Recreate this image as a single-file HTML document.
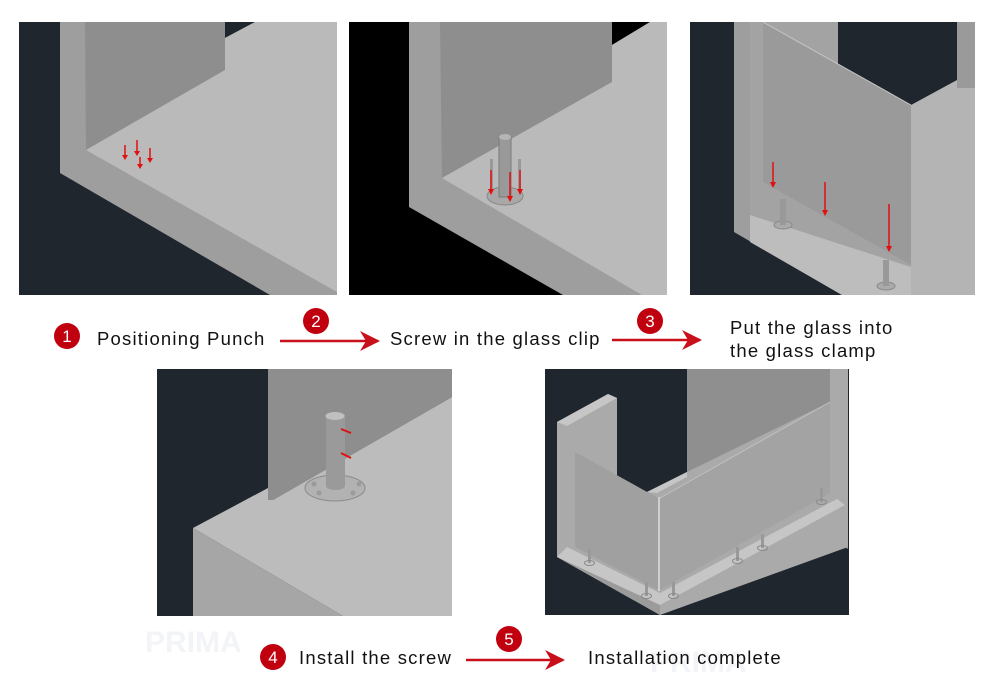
<!DOCTYPE html>
<html><head><meta charset="utf-8"><style>
html,body{margin:0;padding:0;background:#fff;}
svg{display:block}
text{font-family:"Liberation Sans",Arial,sans-serif;}
</style></head><body>
<svg width="990" height="700" viewBox="0 0 990 700" xmlns="http://www.w3.org/2000/svg">
<defs>
<marker id="ah" viewBox="0 0 10 10" refX="9" refY="5" markerWidth="8" markerHeight="8" orient="auto"><path d="M0,0 L10,5 L0,10 L3,5z" fill="#c8101a"/></marker>
</defs>

<!-- Panel 1 -->
<g transform="translate(19,22)">
<rect width="318" height="273" fill="#20262e"/>
<polygon points="41,0 318,0 318,273 251,273 41,151" fill="#9e9e9e"/>
<polygon points="66,0 206,0 206,48 67,128" fill="#8e8e8e"/>
<polygon points="206,0 236,0 206,16" fill="#20262e"/>
<polygon points="67,128 206,48 206,16 236,0 318,0 318,270" fill="#bababa"/>
<g stroke="#e01010" stroke-width="1.5">
<line x1="106" y1="123" x2="106" y2="135"/><line x1="118" y1="118" x2="118" y2="131"/><line x1="131" y1="126" x2="131" y2="138"/><line x1="121" y1="135" x2="121" y2="144"/>
</g>
<g fill="#e01010"><polygon points="103,133 109,133 106,138"/><polygon points="115,129 121,129 118,134"/><polygon points="128,136 134,136 131,141"/><polygon points="118,142 124,142 121,147"/></g>
</g>

<!-- Panel 2 -->
<g transform="translate(349,22)">
<rect width="318" height="273" fill="#000"/>
<polygon points="60,0 318,0 318,273 214,273 60,185" fill="#9e9e9e"/>
<polygon points="91,0 263,0 263,60 93,156" fill="#8e8e8e"/>
<polygon points="263,0 301,0 263,23" fill="#000"/>
<polygon points="93,156 263,60 263,23 301,0 318,0 318,273 293,273" fill="#bababa"/>
<ellipse cx="156" cy="174" rx="18" ry="9" fill="#a8a8a8" stroke="#888"/>
<rect x="150" y="115" width="12" height="60" fill="#999" stroke="#7a7a7a"/>
<ellipse cx="156" cy="115" rx="6" ry="3" fill="#b5b5b5"/>
<rect x="141" y="137" width="3" height="32" fill="#999"/><rect x="169" y="137" width="3" height="32" fill="#999"/>
<g stroke="#e01010" stroke-width="1.5"><line x1="142" y1="148" x2="142" y2="168"/><line x1="161" y1="150" x2="161" y2="176"/><line x1="171" y1="148" x2="171" y2="168"/></g>
<g fill="#e01010"><polygon points="139,167 145,167 142,173"/><polygon points="158,174 164,174 161,180"/><polygon points="168,167 174,167 171,173"/></g>
</g>

<!-- Panel 3 -->
<g transform="translate(690,22)">
<rect width="285" height="273" fill="#20262e"/>
<polygon points="44,0 285,0 285,273 152,273 44,210" fill="#9e9e9e"/>
<polygon points="60,0 285,0 285,273 160,273 60,215" fill="#a3a3a3"/>
<polygon points="60,193 221,245 285,210 285,273 152,273 60,220" fill="#bdbdbd"/>
<polygon points="221,83 267,58 285,66 285,273 221,273" fill="#b4b4b4"/>
<polygon points="148,0 267,0 267,58 221,83 148,42" fill="#20262e"/>
<polygon points="73,0 221,83 221,243 73,160" fill="#9a9a9a"/>
<line x1="73" y1="0" x2="221" y2="83" stroke="#c8c8c8"/>
<rect x="267" y="0" width="18" height="66" fill="#9a9a9a"/>
<ellipse cx="93" cy="203" rx="9" ry="4" fill="#aaa" stroke="#888"/><rect x="90" y="177" width="6" height="26" fill="#999"/>
<ellipse cx="196" cy="264" rx="9" ry="4" fill="#aaa" stroke="#888"/><rect x="193" y="238" width="6" height="26" fill="#999"/>
<g stroke="#e01010" stroke-width="1.5"><line x1="83" y1="140" x2="83" y2="162"/><line x1="135" y1="160" x2="135" y2="190"/><line x1="199" y1="182" x2="199" y2="226"/></g>
<g fill="#e01010"><polygon points="80,160 86,160 83,166"/><polygon points="132,188 138,188 135,194"/><polygon points="196,224 202,224 199,230"/></g>
</g>

<!-- Panel 4 -->
<g transform="translate(157,369)">
<rect width="295" height="247" fill="#20262e"/>
<polygon points="111,0 295,0 295,28 116,131 111,131" fill="#8e8e8e"/>
<polygon points="36,159 111,119 111,131 116,131 295,28 295,247 186,247" fill="#bcbcbc"/>
<polygon points="36,159 186,247 36,247" fill="#a6a6a6"/>
<ellipse cx="178" cy="119" rx="30" ry="13" fill="#b2b2b2" stroke="#8a8a8a"/>
<rect x="169" y="45" width="19" height="72" fill="#9a9a9a"/>
<ellipse cx="178.5" cy="117" rx="9.5" ry="4" fill="#9a9a9a"/>
<ellipse cx="178" cy="47" rx="9.5" ry="4" fill="#c0c0c0"/>
<g fill="#9a9a9a"><circle cx="162" cy="124" r="2.5"/><circle cx="196" cy="124" r="2.5"/><circle cx="157" cy="115" r="2.5"/><circle cx="202" cy="115" r="2.5"/></g>
<line x1="194" y1="64" x2="184" y2="60" stroke="#e01010" stroke-width="2"/>
<line x1="194" y1="89" x2="184" y2="84" stroke="#e01010" stroke-width="2"/>
</g>

<!-- Panel 5 -->
<g transform="translate(545,369)">
<rect width="304" height="246" fill="#20262e"/>
<polygon points="142,0 303,0 303,180 142,105" fill="#8f8f8f"/>
<polygon points="12,53 63,25 72,29 72,121 102,123 142,103 285,33 285,0 303,0 303,178 115,246 12,188" fill="#aaaaaa"/>
<polygon points="12,53 63,25 72,29 22,57" fill="#c6c6c6"/>
<polygon points="102,123 142,103 142,108 112,124" fill="#c6c6c6"/>
<polygon points="30,83 113,129 113,221 30,178" fill="#a0a0a0"/>
<polygon points="115,129 285,33 285,124 115,221" fill="#a3a3a3"/>
<line x1="115" y1="129" x2="285" y2="33" stroke="#c0c0c0"/>
<line x1="114" y1="128" x2="114" y2="222" stroke="#cfcfcf" stroke-width="2"/>
<polygon points="22,178 115,224 292,130 300,136 115,236 12,188" fill="#c6c6c6"/>
<polygon points="12,188 115,246 115,236" fill="#9b9b9b"/>
<g fill="#999">
<rect x="43" y="180" width="3" height="14"/><rect x="100" y="213" width="3" height="14"/><rect x="127" y="213" width="3" height="14"/><rect x="191" y="178" width="3" height="14"/><rect x="216" y="165" width="3" height="14"/><rect x="275" y="119" width="3" height="14"/>
</g>
<g fill="none" stroke="#8a8a8a"><ellipse cx="44.5" cy="194" rx="5" ry="2.5"/><ellipse cx="101.5" cy="227" rx="5" ry="2.5"/><ellipse cx="128.5" cy="227" rx="5" ry="2.5"/><ellipse cx="192.5" cy="192" rx="5" ry="2.5"/><ellipse cx="217.5" cy="179" rx="5" ry="2.5"/><ellipse cx="276.5" cy="133" rx="5" ry="2.5"/></g>
</g>

<!-- watermarks -->
<text x="145" y="652" font-size="30" font-weight="bold" fill="#f3f4f7">PRIMA</text>
<text x="650" y="672" font-size="30" font-weight="bold" fill="#f3f4f7">PRIMA</text>

<!-- Labels -->
<g font-size="18.5" fill="#111" letter-spacing="1.2">
<text x="97" y="345">Positioning Punch</text>
<text x="390" y="345">Screw in the glass clip</text>
<text x="730" y="334">Put the glass into</text>
<text x="730" y="357">the glass clamp</text>
<text x="299" y="664">Install the screw</text>
<text x="588" y="664">Installation complete</text>
</g>
<g fill="#c0000e">
<circle cx="67" cy="336" r="13"/><circle cx="316" cy="321" r="13"/><circle cx="650" cy="321" r="13"/><circle cx="273" cy="657" r="13"/><circle cx="509" cy="639" r="13"/>
</g>
<g fill="#fff" font-size="17" text-anchor="middle">
<text x="67" y="342">1</text><text x="316" y="327">2</text><text x="650" y="327">3</text><text x="273" y="663">4</text><text x="509" y="645">5</text>
</g>
<g stroke="#c8101a" stroke-width="2.5" marker-end="url(#ah)">
<line x1="280" y1="341" x2="378" y2="341"/>
<line x1="612" y1="340" x2="700" y2="340"/>
<line x1="466" y1="660" x2="563" y2="660"/>
</g>
</svg>
</body></html>
